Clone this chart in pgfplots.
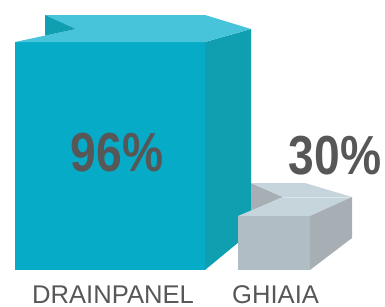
\documentclass[border=0pt]{standalone}
\usepackage{pgfplots}
\pgfplotsset{compat=1.18}
\usepackage{fontspec}
\setmainfont{Liberation Sans}
\newfontfamily\condbold[FakeStretch=0.84]{Liberation Sans Bold}
\definecolor{blueFront}{HTML}{06ABC7}
\definecolor{blueTop}{HTML}{48C4DA}
\definecolor{blueSide}{HTML}{0F9FB1}
\definecolor{grayFront}{HTML}{B1BDC5}
\definecolor{graySide}{HTML}{A7AFB5}
\definecolor{grayTop}{HTML}{C6D5DB}
\definecolor{grayLine}{HTML}{DCE6EA}
\definecolor{txt}{HTML}{575757}
\begin{document}
\begin{tikzpicture}
\begin{axis}[width=385pt,height=306pt,scale only axis,
  xmin=0,xmax=385,ymin=0,ymax=306,y dir=reverse,hide axis,clip=false]
% frame of the picture (invisible)
\addplot[draw=none,mark=none] coordinates {(0,0) (385,306)};
% DRAINPANEL cube (96%)
\addplot[fill=blueFront,draw=none] coordinates {(15,42) (205,42) (205,270) (15,270)} -- cycle;
\addplot[fill=blueSide,draw=none] coordinates {(205,42) (251,29) (251,232) (205,270)} -- cycle;
\addplot[fill=blueTop,draw=none] coordinates {(15,42) (76,29) (45,15) (205,15) (251,29) (205,42)} -- cycle;
\addplot[fill=blueSide,draw=none] coordinates {(45,15) (76,29) (45,35.6)} -- cycle;
% GHIAIA cube (30%)
\addplot[fill=graySide,draw=none] coordinates {(251,183) (283,197) (251,211)} -- cycle;
\addplot[fill=grayTop,draw=none] coordinates {(238,216) (283,197) (251,183) (305,183) (352,197) (310,216)} -- cycle;
\addplot[draw=grayLine,line width=0.8pt] coordinates {(283,197) (352,197)};
\addplot[fill=grayFront,draw=none] coordinates {(238,216) (310,216) (310,270) (238,270)} -- cycle;
\addplot[fill=graySide,draw=none] coordinates {(310,216) (352,197) (352,238) (310,270)} -- cycle;
% values
\addplot[draw=none,mark=none,point meta=explicit symbolic,
  nodes near coords={\pgfplotspointmeta\%},
  every node near coord/.append style={anchor=center,inner sep=0pt,text=txt,
    font=\condbold\fontsize{55}{55}\selectfont}]
  coordinates {(117,153) [96] (335,156) [30]};
% category labels
\addplot[draw=none,mark=none,point meta=explicit symbolic,
  nodes near coords={\pgfplotspointmeta},
  every node near coord/.append style={anchor=base west,inner sep=0pt,text=txt,
    font=\fontsize{25.6}{25.6}\selectfont}]
  coordinates {(32,303) [DRAINPANEL] (232,303) [GHIAIA]};
\end{axis}
\end{tikzpicture}
\end{document}
